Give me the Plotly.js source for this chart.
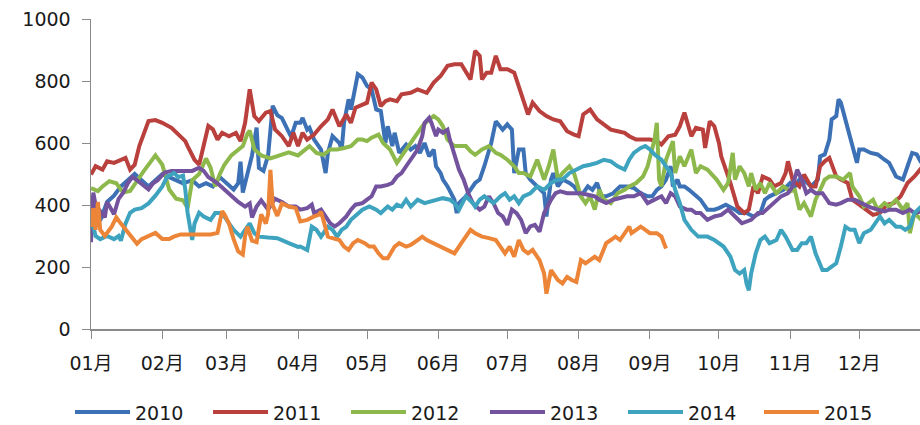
<!DOCTYPE html>
<html>
<head>
<meta charset="utf-8">
<script src="https://cdn.plot.ly/plotly-3.0.1.min.js"></script>
<style>html,body{margin:0;padding:0;background:#fff;}#chart{width:920px;height:425px;}</style>
</head>
<body>
<div id="chart"></div>
<script>
// x = day of year (0 = 1 Jan), y = value
const years = ['2010', '2011', '2012', '2013', '2014', '2015'];
const months = ['01月','02月','03月','04月','05月','06月','07月','08月','09月','10月','11月','12月'];

const s2010 = [[0,430],[2,380],[4,350],[7,410],[10,430],[13,460],[16,480],[19,500],[22,480],[25,460],[28,480],[31,500],[34,490],[37,480],[40,470],[44,480],[47,460],[50,470],[53,460],[56,490],[59,470],[62,450],[64,470],[65,540],[66,440],[68,500],[70,560],[72,650],[73,520],[75,510],[77,560],[79,720],[81,690],[83,680],[85,650],[87,620],[89,665],
[91,665],[92,681],[94,643],[95,649],[97,611],[100,579],[102,503],[103,568],[105,622],[108,600],[109,579],[110,665],[112,741],[113,708],[115,784],[116,822],[118,811],[120,784],[122,773],[124,708],[126,703],[128,600],[129,654],[131,590],[132,633],[134,568],[137,595],[139,579],[141,590],[143,568],[145,600],[147,557],[149,579],[150,525],[152,503],[153,482],[155,460],[158,417],[159,374],[160,406],[163,428],[165,449],[167,471],[169,482],[171,525],[174,600],[175,643],[176,670],[179,643],[181,660],[183,643],[184,503],[186,579],
[188,579],[189,503],[191,482],[194,460],[197,438],[198,363],[200,482],[201,503],[203,460],[205,482],[208,471],[210,460],[213,428],[216,460],[218,449],[220,471],[222,428],[224,428],[227,438],[230,460],[233,460],[236,455],[239,438],[242,428],[244,428],[246,449],[248,460],[250,482],[252,525],[253,460],[255,482],[256,460],[258,460],[260,449],[263,428],[265,417],[268,385],[271,385],[273,390],[276,401],
[280,385],[282,374],[285,374],[288,363],[291,374],[293,417],[295,428],[298,438],[301,449],[304,471],[306,460],[308,482],[310,482],[313,460],[316,482],[317,557],[319,563],[321,611],[322,676],[324,687],[325,741],[326,730],[328,676],[330,622],[331,590],[333,536],[334,579],[336,579],[339,568],[342,563],[345,546],[347,536],[350,492],[353,482],[355,525],[357,568],[359,563],[361,536]];

const s2011 = [[0,498],[2,525],[5,514],[7,541],[10,536],[13,546],[15,552],[17,514],[19,530],[21,590],[23,633],[25,671],[28,674],[31,665],[35,649],[38,627],[41,606],[42,590],[45,546],[47,530],[49,600],[51,655],[53,644],[55,611],[57,633],[60,622],[63,633],[65,606],[67,665],[69,773],[71,687],[73,671],[76,698],[78,703],[80,644],[83,622],[86,590],[88,633],[90,590],[92,633],[94,611],
[97,627],[100,654],[103,676],[105,708],[108,654],[111,692],[113,665],[115,714],[118,725],[120,730],[122,795],[124,773],[126,719],[128,735],[130,741],[133,735],[135,757],[139,762],[142,773],[146,762],[149,795],[152,816],[155,849],[158,854],[161,854],[163,827],[165,805],[167,897],[169,881],[170,805],[172,827],[174,827],[176,881],[178,838],[181,838],[184,827],
[185,806],[188,741],[190,692],[192,730],[195,703],[198,687],[201,676],[204,670],[207,638],[210,627],[212,622],[214,692],[217,708],[220,676],[223,660],[226,643],[229,638],[232,633],[234,622],[237,611],[240,611],[243,611],[246,606],[248,595],[251,622],[254,627],[256,654],[258,698],[261,622],[263,649],[266,643],[267,584],[269,670],[271,654],[273,600],
[274,557],[278,471],[281,395],[284,374],[286,385],[288,460],[290,438],[292,492],[295,482],[297,460],[300,471],[302,503],[303,541],[305,482],[308,460],[310,498],[313,460],[315,460],[317,525],[319,541],[321,552],[324,492],[326,482],[329,471],[331,417],[334,401],[337,385],[340,368],[343,374],[346,401],[349,406],[352,428],[355,471],[358,492],[361,519]];

const s2012 = [[0,455],[3,445],[5,460],[8,477],[11,470],[14,440],[17,445],[20,480],[23,510],[26,540],[28,560],[31,530],[34,450],[37,420],[40,415],[42,390],[44,480],[47,500],[50,550],[52,520],[54,460],[56,500],[58,530],[61,560],[64,580],[66,590],[68,630],[69,640],[71,580],[74,560],[78,550],[82,560],[86,570],[90,560],
[93,579],[95,590],[98,568],[101,562],[104,579],[107,579],[110,584],[113,590],[116,611],[118,611],[120,606],[122,617],[125,627],[127,600],[130,579],[133,536],[136,568],[138,590],[141,622],[144,654],[147,676],[149,687],[151,676],[153,654],[155,611],[158,590],[160,590],[163,590],[165,573],[167,562],[170,579],[173,590],[176,568],[178,562],[181,546],[184,525],[186,503],
[188,503],[191,492],[194,546],[197,482],[199,525],[201,579],[203,482],[205,503],[208,525],[210,503],[213,428],[215,406],[217,428],[219,385],[221,449],[223,417],[226,406],[229,438],[232,449],[234,460],[237,471],[240,492],[242,525],[245,611],[246,665],[247,482],[248,460],[250,546],[253,606],[254,503],[256,557],[258,525],[261,579],[263,503],[265,525],[268,514],[270,500],
[272,482],[275,449],[277,471],[279,568],[280,482],[282,525],[284,503],[286,460],[287,503],[289,449],[291,471],[293,438],[295,471],[298,438],[301,460],[304,444],[306,449],[308,385],[310,406],[313,363],[315,417],[317,449],[319,482],[321,492],[324,492],[327,482],[330,503],[331,460],[334,428],[336,395],[338,406],[340,417],[342,385],[345,406],[347,395],[350,417],[353,385],[355,406],[356,309],[358,374],[361,352]];

const s2013 = [[0,280],[1,440],[2,400],[4,380],[6,360],[7,410],[10,370],[12,420],[14,440],[16,470],[18,490],[20,480],[23,460],[25,450],[27,470],[29,480],[32,505],[35,510],[39,510],[44,510],[47,520],[49,510],[51,490],[53,480],[55,470],[58,450],[61,430],[64,410],[67,395],[69,405],[70,360],[72,395],[74,415],[77,385],[80,420],[83,410],[86,395],[89,395],
[91,385],[94,390],[96,401],[97,374],[100,385],[102,363],[104,341],[106,331],[108,341],[111,363],[113,385],[115,401],[118,406],[120,417],[122,428],[124,460],[126,460],[129,465],[131,471],[133,492],[135,503],[137,525],[140,557],[142,579],[144,622],[145,665],[147,681],[148,665],[150,622],[151,643],[153,633],[155,643],[156,611],[158,557],[160,514],[162,482],[164,438],[166,406],[169,385],[171,395],[173,428],[175,406],[177,374],[179,363],[181,336],[183,385],[185,374],
[187,352],[189,309],[191,331],[193,336],[195,314],[197,374],[200,417],[202,438],[204,444],[207,438],[210,438],[213,438],[216,433],[219,428],[221,417],[224,406],[227,417],[230,422],[233,428],[236,428],[239,438],[242,406],[245,417],[248,428],[250,406],[252,438],[254,428],[256,395],[259,385],[261,385],[263,374],[265,374],[268,352],[271,363],[274,368],[277,385],
[280,363],[283,341],[287,352],[290,374],[292,374],[295,395],[298,417],[300,428],[303,438],[305,460],[307,514],[309,482],[311,438],[313,449],[315,438],[318,438],[321,406],[324,401],[326,406],[329,417],[332,417],[335,406],[338,395],[342,385],[345,379],[347,385],[350,385],[353,374],[356,385],[358,374],[361,379]];

const s2014 = [[0,360],[2,300],[4,290],[7,300],[10,290],[12,300],[13,285],[15,340],[17,375],[19,385],[22,390],[25,405],[28,430],[31,460],[33,490],[36,503],[38,490],[40,495],[41,450],[42,375],[44,287],[45,340],[47,375],[49,363],[52,352],[54,374],[56,374],[58,363],[60,341],[62,320],[65,298],[67,320],[69,341],[71,309],[73,298],[77,295],[81,293],[86,277],[90,265],
[91,266],[94,255],[96,330],[98,320],[100,298],[103,330],[105,320],[107,298],[109,320],[111,330],[113,352],[116,374],[118,385],[121,395],[124,385],[126,374],[129,395],[131,385],[133,401],[135,395],[137,417],[139,395],[142,417],[145,406],[148,411],[150,417],[153,422],[156,417],[158,406],[160,385],[162,417],[163,428],[166,406],[167,395],[169,417],[171,428],[173,417],[175,406],[178,428],[180,438],[182,417],[184,428],[186,406],
[188,428],[191,438],[194,460],[197,449],[200,471],[203,482],[205,482],[208,503],[211,514],[214,525],[217,530],[220,536],[223,546],[226,541],[229,525],[232,514],[234,546],[236,568],[239,584],[241,590],[243,579],[245,563],[248,546],[250,525],[252,503],[254,449],[256,406],[258,352],[261,320],[264,298],[268,298],[271,287],
[275,266],[278,233],[280,190],[282,179],[284,190],[285,147],[286,125],[287,179],[289,244],[291,287],[293,298],[295,277],[298,287],[300,320],[302,298],[305,255],[307,255],[309,277],[311,277],[313,298],[315,244],[318,190],[320,190],[322,201],[324,212],[326,266],[328,330],[330,320],[332,320],[334,277],[336,309],[339,320],[341,341],[343,363],[345,341],[347,352],[350,330],[352,330],[354,320],[356,330],[358,374],[361,395]];

const s2015 = [[0,330],[1,390],[2,320],[3,410],[4,320],[6,300],[9,330],[11,360],[13,340],[16,310],[18,290],[20,275],[22,290],[25,300],[28,310],[31,290],[34,290],[36,298],[39,305],[43,305],[47,305],[52,305],[55,310],[57,380],[58,370],[60,340],[62,290],[64,250],[66,240],[67,300],[68,330],[70,285],[72,280],[74,370],[76,340],[77,370],[78,513],[79,400],[81,365],[83,405],[86,395],[89,390],
[91,347],[94,352],[97,363],[99,368],[100,379],[102,320],[103,298],[105,293],[108,287],[110,266],[112,255],[114,277],[116,287],[119,277],[121,266],[123,266],[125,244],[127,228],[129,228],[132,266],[134,277],[137,266],[139,271],[142,287],[144,298],[146,287],[149,277],[152,266],[155,255],[158,244],[161,277],[163,298],[165,320],[167,309],[170,298],[173,293],[176,287],[178,266],[180,244],[182,266],[184,233],[186,287],
[188,255],[190,244],[192,255],[195,222],[197,179],[198,114],[200,190],[203,158],[205,147],[207,168],[209,158],[211,152],[213,222],[215,212],[217,222],[219,233],[221,222],[224,277],[226,287],[228,298],[230,287],[232,309],[234,330],[235,309],[237,320],[239,330],[241,320],[243,309],[246,309],[248,298],[250,260]];

const seriesData = [s2010, s2011, s2012, s2013, s2014, s2015];
const colors = ['#3D71B6', '#B9403D', '#8DB84B', '#73529E', '#3EA3BF', '#EC8537'];

const baseYear = 2015;
function dayToDate(d) {
  return new Date(Date.UTC(baseYear, 0, 1) + d * 86400000).toISOString().slice(0, 10);
}
function pad(n) { return n < 10 ? '0' + n : '' + n; }

const legendIds = ['legend', 'legend2', 'legend3', 'legend4', 'legend5', 'legend6'];

const traces = seriesData.map((s, i) => ({
  type: 'scatter',
  mode: 'lines',
  name: years[i],
  legend: legendIds[i],
  x: s.map(p => dayToDate(p[0])),
  y: s.map(p => p[1]),
  line: { color: colors[i], width: 4, shape: 'linear' },
  hoverinfo: 'x+y+name'
}));

const tickvals = months.map((m, i) => baseYear + '-' + pad(i + 1) + '-01');

const fontFam = '"DejaVu Sans", "Noto Sans CJK SC", sans-serif';

const layout = {
  width: 920,
  height: 425,
  margin: { l: 91, r: 0, t: 19, b: 96 },
  paper_bgcolor: '#ffffff',
  plot_bgcolor: '#ffffff',
  font: { family: fontFam, size: 19, color: '#1a1a1a' },
  showlegend: true,
  xaxis: {
    type: 'date',
    range: [dayToDate(0), '2015-12-27 10:00'],
    tickmode: 'array',
    tickvals: tickvals,
    ticktext: months,
    ticks: 'outside',
    ticklen: 8,
    tickwidth: 1,
    tickcolor: '#8a8a8a',
    showline: true,
    linecolor: '#8a8a8a',
    linewidth: 1.5,
    showgrid: false,
    zeroline: false,
    tickfont: { family: fontFam, size: 19, color: '#1a1a1a' },
    ticklabelstandoff: 9,
    fixedrange: true
  },
  yaxis: {
    range: [0, 1000],
    tickvals: [0, 200, 400, 600, 800, 1000],
    ticks: 'outside',
    ticklen: 8,
    tickwidth: 1,
    tickcolor: '#8a8a8a',
    showline: true,
    linecolor: '#8a8a8a',
    linewidth: 1.5,
    showgrid: false,
    zeroline: false,
    tickfont: { family: fontFam, size: 19, color: '#1a1a1a' },
    ticklabelstandoff: 7,
    fixedrange: true
  }
};

// one single-entry legend per series, placed along the bottom row
const legendLeft = [70, 208, 346, 485, 623, 759];
legendIds.forEach((id, i) => {
  layout[id] = {
    orientation: 'h',
    xref: 'container', yref: 'container',
    x: legendLeft[i] / 920, xanchor: 'left',
    y: 0.03, yanchor: 'middle',
    font: { family: fontFam, size: 19, color: '#1a1a1a' },
    itemwidth: 55,
    bgcolor: 'rgba(0,0,0,0)'
  };
});

Plotly.newPlot('chart', traces, layout, { displayModeBar: false, staticPlot: true });
</script>
</body>
</html>
